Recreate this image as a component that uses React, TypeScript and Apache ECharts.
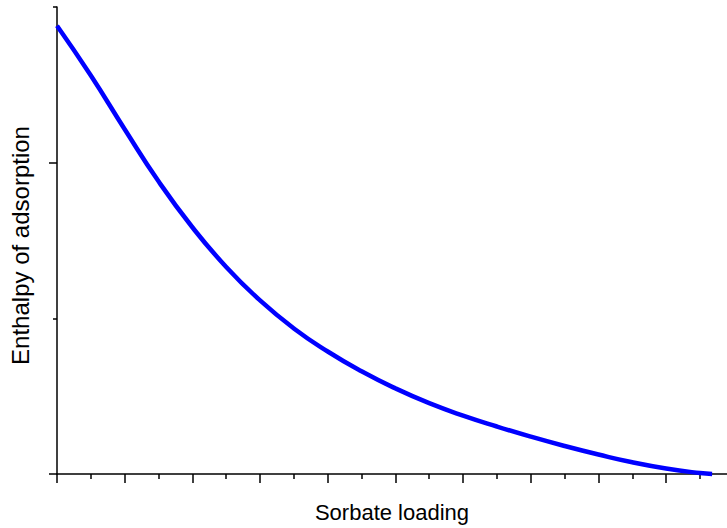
import React, { useEffect, useRef } from "react";
import * as echarts from "echarts";

const loading = [0, 1, 2, 3, 4, 5, 6, 7, 8, 9, 10, 11, 12, 13, 14, 15, 16, 17, 18, 19, 19.36];
const enthalpy = [2.88, 2.56, 2.215, 1.88, 1.585, 1.33, 1.115, 0.935, 0.787, 0.66, 0.55, 0.455, 0.375, 0.305, 0.24, 0.18, 0.125, 0.075, 0.035, 0.006, 0];

const xMajorTicks = [0, 2, 4, 6, 8, 10, 12, 14, 16, 18];
const xMinorTicks = [1, 3, 5, 7, 9, 11, 13, 15, 17, 19];
const yMajorTicks = [0, 2];
const yMinorTicks = [1, 3];

const X_MAX = 19.8;
const Y_MAX = 3;

export default function App() {
  const ref = useRef<HTMLDivElement>(null);
  useEffect(() => {
    if (!ref.current) return;
    const chart = echarts.init(ref.current, null, { renderer: "svg" });
    const axisColor = "#000";
    const font = "Liberation Sans, Arial, sans-serif";
    chart.setOption({
      animation: false,
      grid: { left: 56.7, top: 7, right: 0, bottom: 54, containLabel: false },
      xAxis: [
        {
          type: "value",
          min: 0,
          max: X_MAX,
          name: "Sorbate loading",
          nameLocation: "middle",
          nameGap: 27,
          nameTextStyle: { fontSize: 22, color: "#000", fontFamily: font },
          axisLine: { show: true, onZero: false, lineStyle: { color: axisColor, width: 1.5 } },
          axisTick: { show: true, length: 9, customValues: xMajorTicks, lineStyle: { color: axisColor, width: 1.5 } },
          axisLabel: { show: false },
          splitLine: { show: false },
        },
        {
          type: "value",
          min: 0,
          max: X_MAX,
          position: "bottom",
          offset: 0,
          axisLine: { show: false },
          axisTick: { show: true, length: 5, customValues: xMinorTicks, lineStyle: { color: axisColor, width: 1.5 } },
          axisLabel: { show: false },
          splitLine: { show: false },
        },
      ],
      yAxis: [
        {
          type: "value",
          min: 0,
          max: Y_MAX,
          name: "Enthalpy of adsorption",
          nameLocation: "middle",
          nameGap: 25,
          nameTextStyle: { fontSize: 24, color: "#000", fontFamily: font, padding: [0, 10, 0, 0] },
          axisLine: { show: true, onZero: false, lineStyle: { color: axisColor, width: 1.5 } },
          axisTick: { show: true, length: 8, customValues: yMajorTicks, lineStyle: { color: axisColor, width: 1.5 } },
          axisLabel: { show: false },
          splitLine: { show: false },
        },
        {
          type: "value",
          min: 0,
          max: Y_MAX,
          position: "left",
          offset: 0,
          axisLine: { show: false },
          axisTick: { show: true, length: 4, customValues: yMinorTicks, lineStyle: { color: axisColor, width: 1.5 } },
          axisLabel: { show: false },
          splitLine: { show: false },
        },
      ],
      series: [
        {
          type: "line",
          xAxisIndex: 0,
          yAxisIndex: 0,
          data: loading.map((x, i) => [x, enthalpy[i]]),
          smooth: true,
          showSymbol: false,
          clip: false,
          lineStyle: { color: "#0000ff", width: 4.5 },
        },
      ],
    });
    return () => chart.dispose();
  }, []);
  return <div ref={ref} style={{ position: "absolute", left: 0, top: 0, width: 727, height: 528 }} />;
}
